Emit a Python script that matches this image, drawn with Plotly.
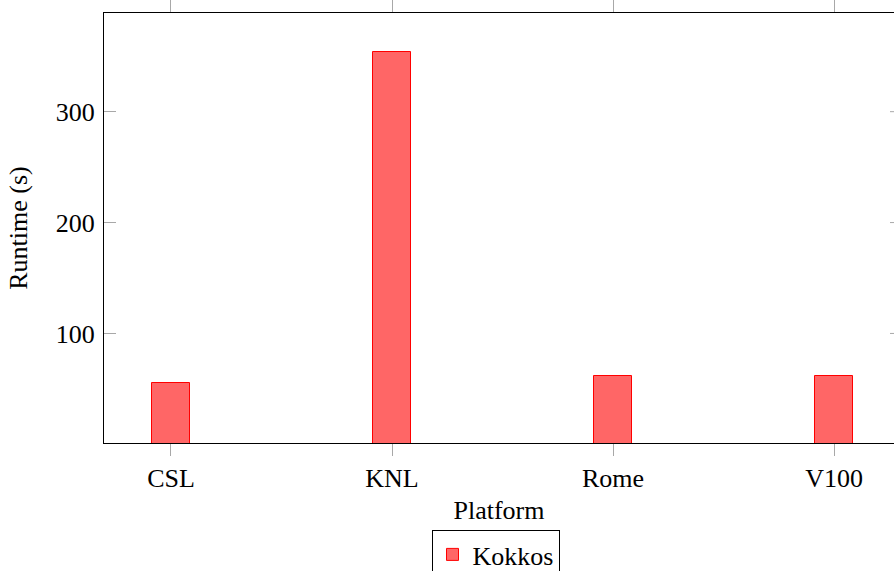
import plotly.graph_objects as go

platforms = ["CSL", "KNL", "Rome", "V100"]
runtime_kokkos = [55, 354, 62, 62]
ytick_vals = [100, 200, 300]
series_name = "Kokkos"

W, H = 894, 571
L, R, T, B = 104, 0, 13, 128
plot_w = W - L - R
plot_h = H - T - B

font_family = "Liberation Serif, DejaVu Serif, serif"
fs = 26

fig = go.Figure()
fig.add_trace(go.Bar(
    x=platforms, y=runtime_kokkos, name=series_name,
    width=0.172,
    marker=dict(color="rgb(255,102,102)", line=dict(color="red", width=1)),
    showlegend=True,
))

tick_color = "#a8a8a8"
# right-side inner ticks (axis box extends past the visible edge)
shapes = []
for v in ytick_vals:
    shapes.append(dict(type="line", xref="paper", yref="y",
                       x0=(890 - L) / plot_w, x1=1.0, y0=v, y1=v,
                       line=dict(color=tick_color, width=1)))

fig.update_layout(
    width=W, height=H,
    margin=dict(l=L, r=R, t=T, b=B, pad=0, autoexpand=False),
    paper_bgcolor="white", plot_bgcolor="white",
    font=dict(family=font_family, size=fs, color="black"),
    bargap=0,
    shapes=shapes,
    xaxis=dict(
        type="category", range=[-0.303, 3.271],
        showline=True, linecolor="black", linewidth=1, mirror="ticks",
        ticks="outside", ticklen=12, tickcolor=tick_color, tickwidth=1,
        showgrid=False, zeroline=False, automargin=False,
        title=dict(text="Platform", font=dict(size=fs, family=font_family), standoff=8),
        tickfont=dict(size=fs, family=font_family),
    ),
    yaxis=dict(
        range=[1.2, 389], tickvals=ytick_vals,
        showline=True, linecolor="black", linewidth=1,
        ticks="inside", ticklen=12, tickcolor=tick_color, tickwidth=1,
        ticklabelstandoff=3,
        showgrid=False, zeroline=False, automargin=False,
        title=dict(text="Runtime (s)", font=dict(size=fs, family=font_family), standoff=20),
        tickfont=dict(size=fs, family=font_family),
    ),
    legend=dict(
        orientation="h", x=(495.5 - L) / plot_w, xanchor="center",
        y=(443 - 530) / plot_h, yanchor="top",
        bordercolor="black", borderwidth=1, bgcolor="white",
        font=dict(size=fs, family=font_family), itemwidth=30,
    ),
)

fig.write_html("out.html")
